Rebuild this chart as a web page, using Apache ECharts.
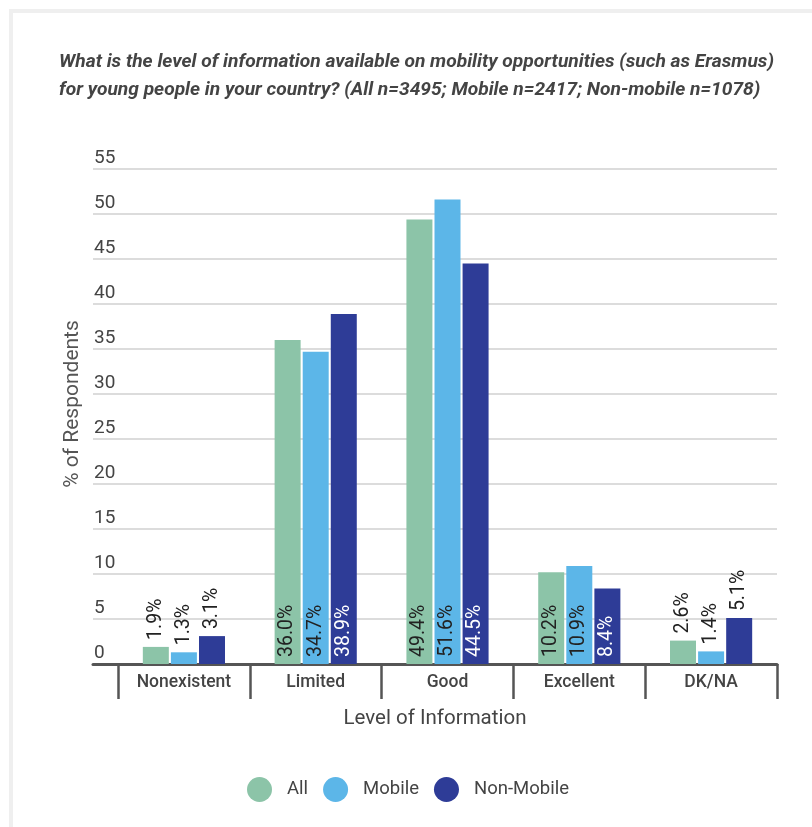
<!DOCTYPE html>
<html><head><meta charset="utf-8">
<script src="https://cdn.jsdelivr.net/npm/echarts@6/dist/echarts.min.js"></script>
<style>html,body{margin:0;padding:0;background:#fff}#c{width:812px;height:827px}</style>
</head><body><div id="c"></div>
<script>
const categories = ['Nonexistent', 'Limited', 'Good', 'Excellent', 'DK/NA'];
const seriesNames = ['All', 'Mobile', 'Non-Mobile'];
const allValues = [1.9, 36.0, 49.4, 10.2, 2.6];
const mobileValues = [1.3, 34.7, 51.6, 10.9, 1.4];
const nonMobileValues = [3.1, 38.9, 44.5, 8.4, 5.1];
const yTicks = [0, 5, 10, 15, 20, 25, 30, 35, 40, 45, 50, 55];
const yAxisTitle = '% of Respondents';
const xAxisTitle = 'Level of Information';
const titleLines = ['What is the level of information available on mobility opportunities (such as Erasmus)',
  'for young people in your country? (All n=3495; Mobile n=2417; Non-mobile n=1078)'];

const colors = ['#8CC4A8', '#5CB6E8', '#2E3C97'];
const insideColors = ['#222', '#222', '#fff'];
const FONT = 'Roboto';

function mkData(vals, si) {
  return vals.map(v => {
    const inside = v > 7;
    return {
      value: v,
      label: {
        position: inside ? 'insideBottom' : 'top',
        color: inside ? insideColors[si] : '#222'
      }
    };
  });
}
const seriesVals = [allValues, mobileValues, nonMobileValues];

const chart = echarts.init(document.getElementById('c'), null, {renderer: 'canvas'});
chart.setOption({
  animation: false,
  backgroundColor: '#fff',
  graphic: [{
    type: 'rect', shape: {x: 11, y: 11, width: 1000, height: 1000},
    style: {fill: 'none', stroke: '#efefef', lineWidth: 4}, z: -10
  }, {
    type: 'text', x: 73, y: 404, rotation: Math.PI / 2,
    style: {text: yAxisTitle, fontFamily: FONT, fontSize: 21, fill: '#555', align: 'center', verticalAlign: 'middle'}
  }],
  title: {
    text: titleLines.join('\n'),
    left: 54, top: 43,
    textStyle: {fontFamily: FONT, fontStyle: 'italic', fontWeight: 'bold', fontSize: 19.2, lineHeight: 28, color: '#444'}
  },
  legend: {
    data: seriesNames,
    left: 242, top: 772,
    icon: 'circle', itemWidth: 25, itemHeight: 25, itemGap: 15,
    textStyle: {fontFamily: FONT, fontSize: 18.5, color: '#444', padding: [0, 0, 0, 10]}
  },
  grid: [
    {left: 93, right: 35, top: 169, bottom: 163},
    {left: 118, right: 35, top: 169, bottom: 163}
  ],
  xAxis: [
    {gridIndex: 0, type: 'category', data: categories,
     axisLine: {show: true, lineStyle: {color: '#555', width: 3}},
     axisTick: {show: false}, axisLabel: {show: false},
     name: xAxisTitle, nameLocation: 'middle', nameGap: 44,
     nameTextStyle: {fontFamily: FONT, fontSize: 20.5, color: '#444'}},
    {gridIndex: 1, type: 'category', data: categories,
     axisLine: {show: false},
     axisTick: {show: true, length: 35, lineStyle: {color: '#555', width: 2.5}},
     axisLabel: {fontFamily: FONT, fontSize: 17.5, fontWeight: 500, color: '#444', margin: 10}}
  ],
  yAxis: [
    {gridIndex: 0, type: 'value', min: yTicks[0], max: yTicks[yTicks.length - 1], interval: 5,
     axisLine: {show: false}, axisTick: {show: false},
     splitLine: {show: true, lineStyle: {color: '#dcdcdc', width: 2}},
     axisLabel: {inside: true, margin: 1, verticalAlign: 'bottom', padding: [0, 0, 1, 0],
       fontFamily: FONT, fontSize: 19, color: '#444'}},
    {gridIndex: 1, type: 'value', min: yTicks[0], max: yTicks[yTicks.length - 1], interval: 5,
     show: false, splitLine: {show: false}}
  ],
  series: seriesNames.map((name, i) => ({
    name, type: 'bar', xAxisIndex: 1, yAxisIndex: 1,
    data: mkData(seriesVals[i], i),
    itemStyle: {color: colors[i]},
    barWidth: 26, barGap: '8%',
    label: {show: true, rotate: 90, align: 'left', verticalAlign: 'middle', distance: 7,
      fontFamily: FONT, fontSize: 19.5, formatter: p => p.value.toFixed(1) + '%'}
  }))
});
</script></body></html>
